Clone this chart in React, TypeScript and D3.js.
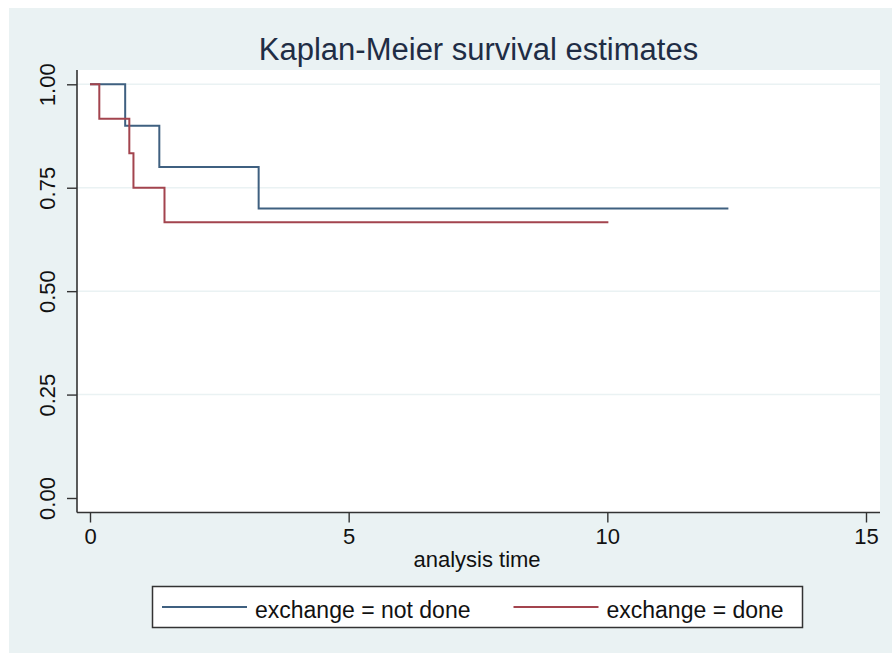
import React, { useEffect, useRef } from "react";
import * as d3 from "d3";

// Kaplan-Meier step points
const notDoneTimes = [0, 0.68, 1.34, 3.26, 12.34];
const notDoneSurv = [1, 0.9, 0.8, 0.7, 0.7];
const doneTimes = [0, 0.18, 0.76, 0.84, 1.44, 10.02];
const doneSurv = [1, 0.9167, 0.8333, 0.75, 0.6667, 0.6667];

const xTicks = [0, 5, 10, 15];
const yTicks = [0, 0.25, 0.5, 0.75, 1];
const gridTicks = [0.25, 0.5, 0.75, 1];

const seriesNames = ["exchange = not done", "exchange = done"];
const seriesColors = ["#3f6080", "#a3444e"];

const FONT = "'Liberation Sans', Arial, Helvetica, sans-serif";

const App = () => {
  const svgRef = useRef<SVGSVGElement>(null);

  useEffect(() => {
    const svg = d3.select(svgRef.current);
    svg.selectAll("*").remove();

    const width = 892;
    const height = 653;
    const plot = { left: 77, right: 880, top: 70, bottom: 512.5 };

    svg.attr("width", width).attr("height", height);

    svg.append("rect").attr("width", width).attr("height", height).attr("fill", "#ffffff");
    svg.append("rect")
      .attr("x", 9).attr("y", 8)
      .attr("width", width - 9).attr("height", height - 8)
      .attr("fill", "#eaf2f3");

    svg.append("rect")
      .attr("x", plot.left).attr("y", plot.top)
      .attr("width", plot.right - plot.left).attr("height", plot.bottom - plot.top)
      .attr("fill", "#ffffff");

    const xScale = d3.scaleLinear().domain([0, 15]).range([90, 866]);
    const yScale = d3.scaleLinear().domain([0, 1]).range([498, 84.3]);

    // grid
    svg.append("g")
      .selectAll("line")
      .data(gridTicks)
      .enter()
      .append("line")
      .attr("x1", plot.left).attr("x2", plot.right)
      .attr("y1", d => yScale(d)).attr("y2", d => yScale(d))
      .attr("stroke", "#eaf2f3")
      .attr("stroke-width", 1.5);

    // title
    svg.append("text")
      .attr("x", (plot.left + plot.right) / 2)
      .attr("y", 60)
      .attr("text-anchor", "middle")
      .attr("font-family", FONT)
      .attr("font-size", 31)
      .attr("fill", "#1f2d45")
      .text("Kaplan-Meier survival estimates");

    // y axis
    const yAxis = svg.append("g")
      .attr("transform", `translate(${plot.left},0)`)
      .call(d3.axisLeft(yScale).tickValues(yTicks).tickFormat(d3.format(".2f")).tickSize(10).tickSizeOuter(0));
    yAxis.select(".domain").remove();
    yAxis.selectAll("line").attr("stroke", "#333").attr("stroke-width", 1.4);
    yAxis.selectAll("text")
      .attr("x", 0).attr("y", 0).attr("dy", 0)
      .attr("transform", "translate(-22,0) rotate(-90)")
      .attr("text-anchor", "middle")
      .attr("font-family", FONT)
      .attr("font-size", 22)
      .attr("fill", "#111");

    // x axis
    const xAxis = svg.append("g")
      .attr("transform", `translate(0,${plot.bottom})`)
      .call(d3.axisBottom(xScale).tickValues(xTicks).tickFormat(d3.format("d")).tickSize(10).tickSizeOuter(0));
    xAxis.select(".domain").remove();
    xAxis.selectAll("line").attr("stroke", "#333").attr("stroke-width", 1.4);
    xAxis.selectAll("text")
      .attr("y", 0).attr("dy", 0)
      .attr("transform", "translate(0,31.5)")
      .attr("font-family", FONT)
      .attr("font-size", 22)
      .attr("fill", "#111");

    svg.append("line")
      .attr("x1", plot.left).attr("x2", plot.left)
      .attr("y1", plot.top).attr("y2", plot.bottom)
      .attr("stroke", "#333").attr("stroke-width", 1.6);
    svg.append("line")
      .attr("x1", plot.left).attr("x2", plot.right)
      .attr("y1", plot.bottom).attr("y2", plot.bottom)
      .attr("stroke", "#333").attr("stroke-width", 1.6);

    svg.append("text")
      .attr("x", 477)
      .attr("y", 566.5)
      .attr("text-anchor", "middle")
      .attr("font-family", FONT)
      .attr("font-size", 22)
      .attr("fill", "#111")
      .text("analysis time");

    // survival curves
    const line = d3.line<[number, number]>()
      .x(d => xScale(d[0]))
      .y(d => yScale(d[1]))
      .curve(d3.curveStepAfter);

    const series = [
      d3.zip(notDoneTimes, notDoneSurv) as [number, number][],
      d3.zip(doneTimes, doneSurv) as [number, number][],
    ];

    svg.append("g")
      .selectAll("path")
      .data(series)
      .enter()
      .append("path")
      .attr("d", d => line(d))
      .attr("fill", "none")
      .attr("stroke", (d, i) => seriesColors[i])
      .attr("stroke-width", 2);

    // legend
    const legend = svg.append("g");
    legend.append("rect")
      .attr("x", 152.5).attr("y", 586.5)
      .attr("width", 650).attr("height", 41)
      .attr("fill", "#ffffff")
      .attr("stroke", "#333")
      .attr("stroke-width", 1.5);

    const legendX = [162, 513.5];
    seriesNames.forEach((name, i) => {
      legend.append("line")
        .attr("x1", legendX[i]).attr("x2", legendX[i] + 85)
        .attr("y1", 607).attr("y2", 607)
        .attr("stroke", seriesColors[i])
        .attr("stroke-width", 2);
      legend.append("text")
        .attr("x", legendX[i] + 93)
        .attr("y", 618)
        .attr("font-family", FONT)
        .attr("font-size", 23)
        .attr("fill", "#111")
        .text(name);
    });
  }, []);

  return (
    <div style={{ position: "fixed", left: 0, top: 0 }}>
      <svg ref={svgRef} style={{ display: "block" }}></svg>
    </div>
  );
};

export default App;
